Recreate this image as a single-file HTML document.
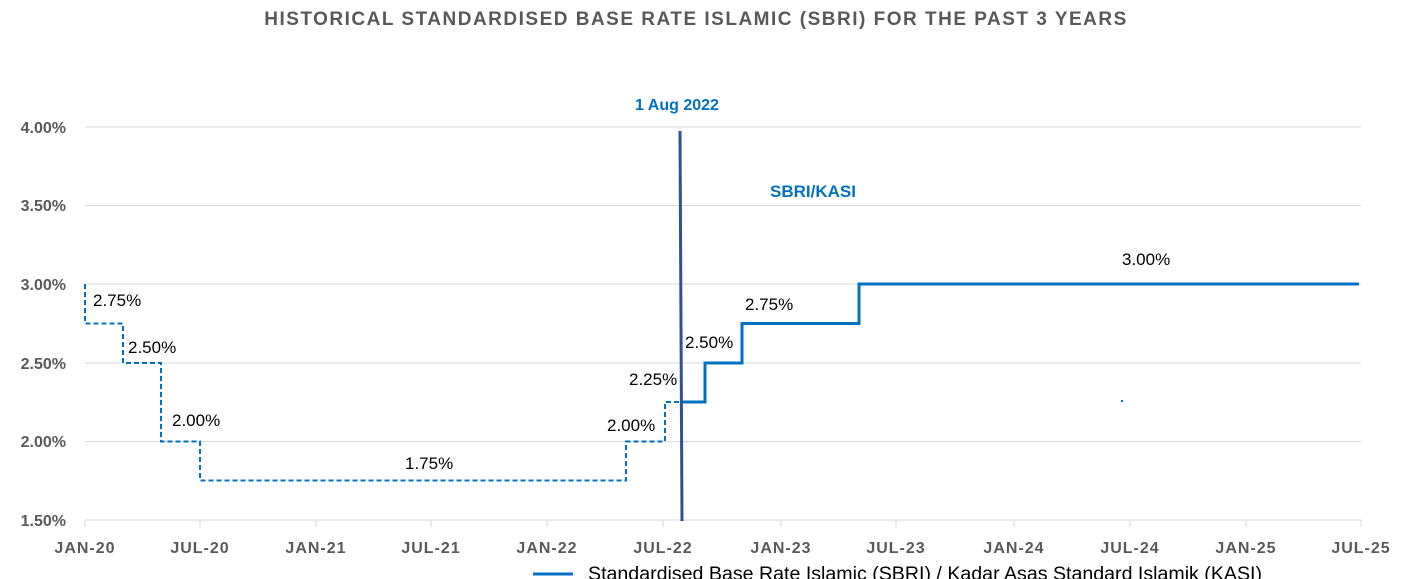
<!DOCTYPE html>
<html><head><meta charset="utf-8"><style>
body{margin:0;background:#fff;}
svg{display:block;font-family:"Liberation Sans",Calibri,sans-serif;}
</style></head><body>
<svg width="1414" height="579" viewBox="0 0 1414 579">
<text x="696" y="25" text-anchor="middle" font-size="19" font-weight="bold" fill="#595959" letter-spacing="1.5">HISTORICAL STANDARDISED BASE RATE ISLAMIC (SBRI) FOR THE PAST 3 YEARS</text>
<g stroke="#d9d9d9" stroke-width="1">
<line x1="85" y1="127" x2="1361" y2="127"/>
<line x1="85" y1="205.5" x2="1361" y2="205.5"/>
<line x1="85" y1="284" x2="1361" y2="284"/>
<line x1="85" y1="363" x2="1361" y2="363"/>
<line x1="85" y1="441.5" x2="1361" y2="441.5"/>
<line x1="85" y1="520" x2="1361" y2="520"/>
<line x1="85" y1="520" x2="85" y2="527"/><line x1="200" y1="520" x2="200" y2="527"/><line x1="316" y1="520" x2="316" y2="527"/><line x1="431" y1="520" x2="431" y2="527"/><line x1="547" y1="520" x2="547" y2="527"/><line x1="663" y1="520" x2="663" y2="527"/><line x1="781" y1="520" x2="781" y2="527"/><line x1="896" y1="520" x2="896" y2="527"/><line x1="1014" y1="520" x2="1014" y2="527"/><line x1="1130" y1="520" x2="1130" y2="527"/><line x1="1246" y1="520" x2="1246" y2="527"/><line x1="1361" y1="520" x2="1361" y2="527"/>
</g>
<g font-size="16" font-weight="bold" fill="#595959" text-anchor="end">
<text x="66" y="133">4.00%</text><text x="66" y="211">3.50%</text><text x="66" y="290">3.00%</text><text x="66" y="369">2.50%</text><text x="66" y="447">2.00%</text><text x="66" y="526">1.50%</text>
</g>
<g font-size="16" font-weight="bold" fill="#595959" text-anchor="middle" letter-spacing="1">
<text x="85" y="553">JAN-20</text><text x="200" y="553">JUL-20</text><text x="316" y="553">JAN-21</text><text x="431" y="553">JUL-21</text><text x="547" y="553">JAN-22</text><text x="663" y="553">JUL-22</text><text x="781" y="553">JAN-23</text><text x="896" y="553">JUL-23</text><text x="1014" y="553">JAN-24</text><text x="1130" y="553">JUL-24</text><text x="1246" y="553">JAN-25</text><text x="1361" y="553">JUL-25</text>
</g>
<polyline fill="none" stroke="#0070c0" stroke-width="2" stroke-dasharray="5,3" points="85,284 85,323.5 123,323.5 123,363 161,363 161,441.5 200,441.5 200,480.5 626,480.5 626,441.5 665,441.5 665,402 680,402"/>
<polyline fill="none" stroke="#0070c0" stroke-width="3" points="680,402 705,402 705,363 742,363 742,323.5 859,323.5 859,284 1359,284"/>
<line x1="680" y1="131" x2="682" y2="521" stroke="#2f4f9a" stroke-width="3"/>
<rect x="1121" y="400" width="2" height="2" fill="#0070c0"/>
<g font-size="17" fill="#000">
<text x="93" y="306">2.75%</text><text x="128" y="353">2.50%</text><text x="172" y="426">2.00%</text><text x="405" y="469">1.75%</text><text x="607" y="431">2.00%</text><text x="629" y="385">2.25%</text><text x="685" y="348">2.50%</text><text x="745" y="310">2.75%</text><text x="1122" y="265">3.00%</text>
</g>
<text x="677" y="110" text-anchor="middle" font-size="16" font-weight="bold" fill="#0070c0">1 Aug 2022</text>
<text x="813" y="197" text-anchor="middle" font-size="17" font-weight="bold" fill="#0070c0">SBRI/KASI</text>
<line x1="533" y1="574" x2="573" y2="574" stroke="#0070c0" stroke-width="3"/>
<text x="588" y="580" font-size="19" fill="#000" textLength="674" lengthAdjust="spacingAndGlyphs">Standardised Base Rate Islamic (SBRI) / Kadar Asas Standard Islamik (KASI)</text>
</svg>
</body></html>
